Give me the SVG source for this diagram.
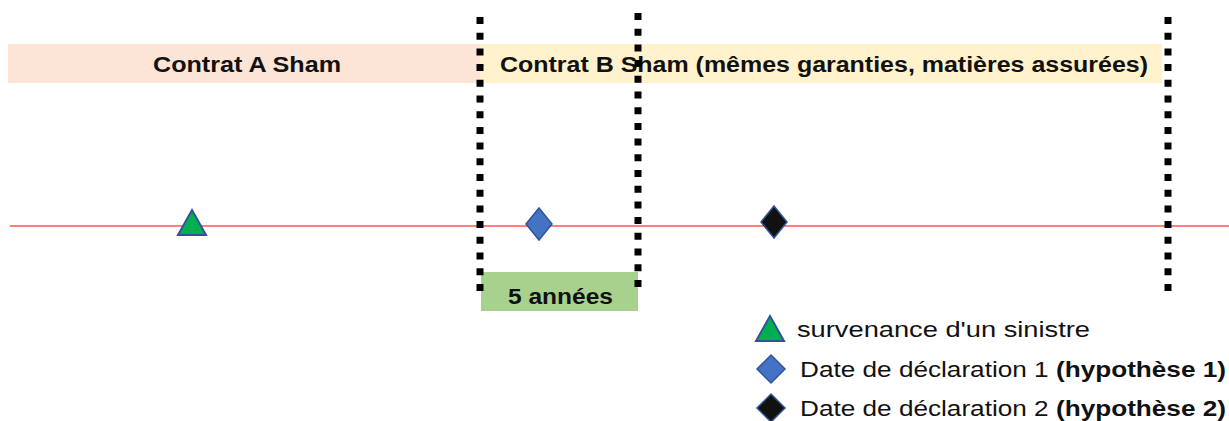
<svg xmlns="http://www.w3.org/2000/svg" width="1229" height="421" viewBox="0 0 1229 421">
<style>
.band{font-family:"Liberation Sans",Arial,sans-serif;font-weight:bold;font-size:22px;fill:#111}
.leg{font-family:"Liberation Sans",Arial,sans-serif;font-size:22px;fill:#111}
.dot{stroke:#000;stroke-width:7;stroke-dasharray:7 8.7;fill:none}
.tri{fill:#00B050;stroke:#2F5597;stroke-width:2}
.d1{fill:#4472C4;stroke:#2F5597;stroke-width:1.5}
.d2{fill:#111;stroke:#2F5597;stroke-width:1.5}
</style>
<rect width="1229" height="421" fill="#fff"/>
<g id="contratA">
<rect x="8" y="44" width="472" height="39" fill="#FCE4D6"/>
<text class="band" x="153" y="72" textLength="188" lengthAdjust="spacingAndGlyphs">Contrat A Sham</text>
</g>
<g id="contratB">
<rect x="480" y="44" width="682" height="39" fill="#FFF2CC"/>
<text class="band" x="500" y="72" textLength="648" lengthAdjust="spacingAndGlyphs">Contrat B Sham (mêmes garanties, matières assurées)</text>
</g>
<g id="timeline">
<line x1="10" y1="226" x2="1229" y2="226" stroke="#F55" stroke-width="1.5"/>
</g>
<g id="annees">
<rect x="481" y="272" width="157" height="39" fill="#A9D18E"/>
<text class="band" x="508" y="304" textLength="105" lengthAdjust="spacingAndGlyphs">5 années</text>
</g>
<g id="connectors">
<line class="dot" x1="480" y1="17" x2="480" y2="292"/>
<line class="dot" x1="638" y1="13" x2="638" y2="292"/>
<line class="dot" x1="1168" y1="17" x2="1168" y2="292"/>
</g>
<g id="sinistre"><polygon class="tri" points="192,210 206,235 178,235"/></g>
<g id="declaration1"><polygon class="d1" points="539,208 552,224 539,240 526,224"/></g>
<g id="declaration2"><polygon class="d2" points="774,206 787,222 774,238 761,222"/></g>
<g id="legend">
<polygon class="tri" points="770,316 784,341 756,341"/>
<text class="leg" x="797" y="337" textLength="293" lengthAdjust="spacingAndGlyphs">survenance d'un sinistre</text>
<polygon class="d1" points="771,355 785,369 771,383 757,369"/>
<text class="leg" x="800" y="377" textLength="426" lengthAdjust="spacingAndGlyphs">Date de déclaration 1 <tspan font-weight="bold">(hypothèse 1)</tspan></text>
<polygon class="d2" points="771,394 785,408 771,422 757,408"/>
<text class="leg" x="800" y="416" textLength="426" lengthAdjust="spacingAndGlyphs">Date de déclaration 2 <tspan font-weight="bold">(hypothèse 2)</tspan></text>
</g>
</svg>
